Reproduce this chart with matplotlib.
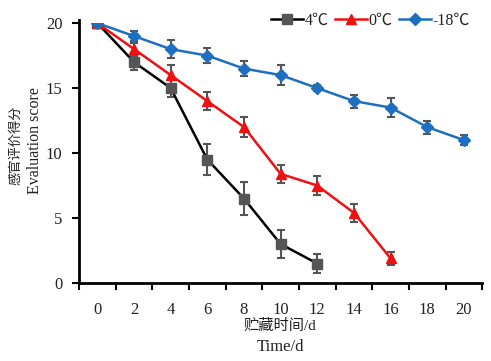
import matplotlib
matplotlib.use("Agg")
import matplotlib.pyplot as plt
import numpy as np

days = [0, 2, 4, 6, 8, 10, 12, 14, 16, 18, 20]
s4 = [20, 17, 15, 9.5, 6.5, 3.0, 1.5]
e4 = [0, 0.6, 0.7, 1.2, 1.3, 1.1, 0.7]
s0 = [20, 18, 16, 14, 12, 8.4, 7.5, 5.4, 1.9]
e0 = [0, 0.5, 0.8, 0.7, 0.8, 0.7, 0.7, 0.7, 0.5]
s18 = [20, 19, 18, 17.5, 16.5, 16, 15, 14, 13.5, 12, 11]
e18 = [0, 0.4, 0.7, 0.6, 0.6, 0.8, 0.2, 0.5, 0.7, 0.5, 0.4]
labels = ["4℃", "0℃", "-18℃"]

plt.rcParams['font.family'] = ['Liberation Serif', 'Noto Sans CJK SC']

fig = plt.figure(figsize=(4.91, 3.61), dpi=100)
ax = fig.add_axes([0.161, 0.216, 0.821, 0.72])

x = np.arange(len(days))
series = [(s4, e4, '#000000', '#555555', 's', 7.5), (s0, e0, '#ee1111', '#ee1111', '^', 7.5), (s18, e18, '#1f6fc0', '#1f6fc0', 'D', 6)]
for (s, e, lc, mc, mk, ms), lab in zip(series, labels):
    xi = x[:len(s)]
    ax.errorbar(xi, s, yerr=e, fmt='none', ecolor='#555555', elinewidth=1.5, capsize=3, capthick=1.5, zorder=2)
    ax.plot(xi, s, color=lc, lw=1.8, marker=mk, markersize=ms, markerfacecolor=mc, markeredgecolor=mc, label=lab, zorder=3)

ax.set_xlim(-0.5, len(days) - 0.5)
ax.set_ylim(0, 20)
ax.set_xticks(np.arange(len(days) + 1) - 0.5)
ax.set_xticklabels([])
ax.set_xticks(x, minor=True)
ax.set_xticklabels([str(d) for d in days], minor=True)
ax.tick_params(axis='x', which='minor', length=0, pad=14, labelsize=12, labelcolor='#222222')
ax.tick_params(axis='x', which='major', length=5, width=1.5, direction='out')
ax.set_yticks([0, 5, 10, 15, 20])
ax.tick_params(axis='y', length=5, width=1.5, direction='out', labelsize=12, pad=7, labelcolor='#222222')
for sp in ['top', 'right']:
    ax.spines[sp].set_visible(False)
for sp in ['left', 'bottom']:
    ax.spines[sp].set_linewidth(2)
ax.spines['left'].set_bounds(0, 20.25)

fig.text(0.571, 0.098, "贮藏时间/d", ha='center', va='center', fontsize=11, color='#222222')
fig.text(0.571, 0.038, "Time/d", ha='center', va='center', fontsize=12, color='#222222')
fig.text(0.032, 0.598, "感官评价得分", ha='center', va='center', rotation=90, fontsize=9.5, color='#222222')
fig.text(0.072, 0.612, "Evaluation score", ha='center', va='center', rotation=90, fontsize=11.5, color='#222222')

ax.legend(loc='upper right', bbox_to_anchor=(0.985, 1.065), ncol=3, frameon=False, fontsize=11.5,
          handlelength=2.0, handletextpad=0.1, columnspacing=0.4, borderaxespad=0, labelcolor='#222222')

fig.savefig("out.png", dpi=100)
